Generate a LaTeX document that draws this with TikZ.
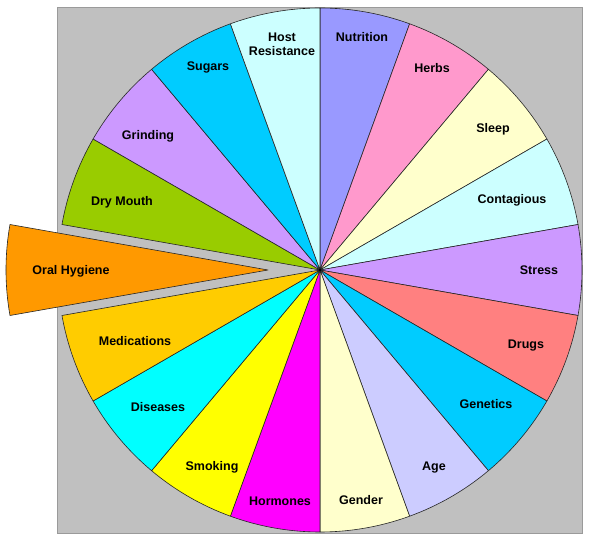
\documentclass[tikz,border=0pt]{standalone}
\usepackage{fontspec}
\setmainfont{Liberation Sans}
\definecolor{cNutrition}{HTML}{9999FF}
\definecolor{cHerbs}{HTML}{FF99CC}
\definecolor{cSleep}{HTML}{FFFFCC}
\definecolor{cContagious}{HTML}{CCFFFF}
\definecolor{cStress}{HTML}{CC99FF}
\definecolor{cDrugs}{HTML}{FF8080}
\definecolor{cGenetics}{HTML}{00CCFF}
\definecolor{cAge}{HTML}{CCCCFF}
\definecolor{cGender}{HTML}{FFFFCC}
\definecolor{cHormones}{HTML}{FF00FF}
\definecolor{cSmoking}{HTML}{FFFF00}
\definecolor{cDiseases}{HTML}{00FFFF}
\definecolor{cMedications}{HTML}{FFCC00}
\definecolor{cOral}{HTML}{FF9900}
\definecolor{cDry}{HTML}{99CC00}
\definecolor{cGrinding}{HTML}{CC99FF}
\definecolor{cSugars}{HTML}{00CCFF}
\definecolor{cHost}{HTML}{CCFFFF}
\definecolor{plotgray}{HTML}{C0C0C0}
\definecolor{plotedge}{HTML}{9A9A9A}
\begin{document}
\begin{tikzpicture}[x=1pt,y=1pt,
  slice/.style={draw=black!85, line width=0.6pt, line join=round},
  lab/.style={font=\fontsize{12.5}{14.5}\selectfont\bfseries, text=black, align=center, inner sep=0pt}]
\useasboundingbox (-320,-273) rectangle (280,270);
\fill[white] (-320,-273) rectangle (280,270);
\filldraw[fill=plotgray, draw=plotedge, line width=0.8pt] (-262.5,-263) rectangle (262.5,263);
\def\R{262}
\foreach \i/\col in {0/cNutrition,1/cHerbs,2/cSleep,3/cContagious,4/cStress,5/cDrugs,6/cGenetics,7/cAge,8/cGender,9/cHormones,10/cSmoking,11/cDiseases,12/cMedications,14/cDry,15/cGrinding,16/cSugars,17/cHost}{
  \pgfmathsetmacro{\aa}{90-20*\i}
  \pgfmathsetmacro{\ab}{70-20*\i}
  \filldraw[slice, fill=\col] (0,0) -- (\aa:\R) arc[start angle=\aa, end angle=\ab, radius=\R] -- cycle;
}
\filldraw[slice, fill=cOral, shift={(-52,0)}] (0,0) -- (170:\R) arc[start angle=170, end angle=190, radius=\R] -- cycle;
\fill[black] (0,0) circle (1.6);
\node[lab] (nutrition) at (42,233) {Nutrition};
\node[lab] (herbs) at (112,202) {Herbs};
\node[lab] (sleep) at (173,141) {Sleep};
\node[lab] (contagious) at (192,70) {Contagious};
\node[lab] (stress) at (219,0) {Stress};
\node[lab] (drugs) at (206,-76) {Drugs};
\node[lab] (genetics) at (166,-134) {Genetics};
\node[lab] (age) at (114,-198) {Age};
\node[lab] (gender) at (41,-230) {Gender};
\node[lab] (hormones) at (-40,-231) {Hormones};
\node[lab] (smoking) at (-108,-197) {Smoking};
\node[lab] (diseases) at (-162,-137) {Diseases};
\node[lab] (medications) at (-185,-71) {Medications};
\node[lab] (oral) at (-249,-1) {Oral Hygiene};
\node[lab] (drymouth) at (-198,68) {Dry Mouth};
\node[lab] (grinding) at (-172,134) {Grinding};
\node[lab] (sugars) at (-112,203) {Sugars};
\node[lab] (host) at (-38,225.5) {Host\\Resistance};
\end{tikzpicture}
\end{document}
